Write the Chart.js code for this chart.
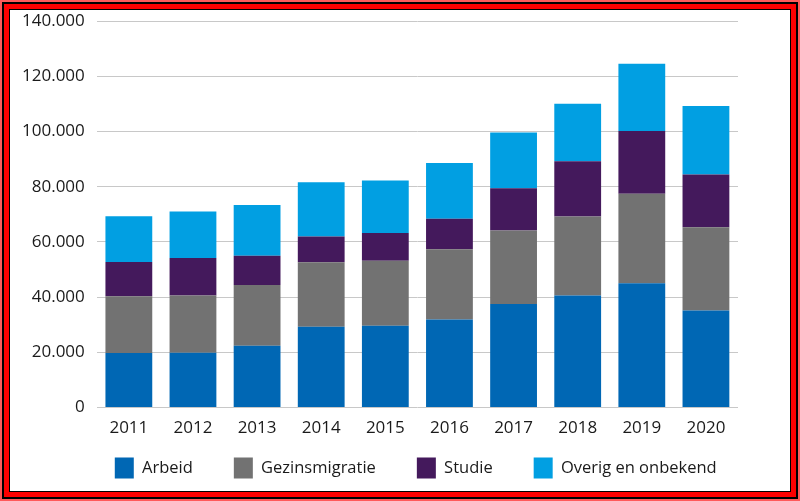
<!DOCTYPE html>
<html>
<head>
<meta charset="utf-8">
<script src="https://cdn.jsdelivr.net/npm/chart.js@4.4.0/dist/chart.umd.min.js"></script>
<style>
  html, body { margin: 0; padding: 0; background: #fff; }
  #frame {
    position: relative;
    width: 800px; height: 501px;
    box-sizing: border-box;
    padding: 10px;
    box-shadow: inset 0 0 0 2px #ff5a5a, inset 0 0 0 4px #000, inset 0 0 0 9px #f00, inset 0 0 0 10px #000;
  }
  #wrap { position: relative; width: 780px; height: 481px; }
</style>
</head>
<body>
<div id="frame"><div id="wrap"><canvas id="myChart"></canvas></div></div>
<script>
// Jaren en instroom per migratiemotief
var years = ['2011', '2012', '2013', '2014', '2015', '2016', '2017', '2018', '2019', '2020'];
var arbeid = [19800, 19900, 22400, 29300, 29600, 31900, 37500, 40600, 45000, 35200];
var gezinsmigratie = [20500, 20700, 22000, 23300, 23600, 25400, 26600, 28600, 32400, 30100];
var studie = [12400, 13600, 10600, 9400, 10000, 11100, 15300, 20000, 22800, 19100];
var overig = [16600, 16800, 18400, 19600, 19000, 20200, 20200, 20800, 24300, 24800];

function fmt(v) {
    return String(v).replace(/\B(?=(\d{3})+(?!\d))/g, '.');
}

// legend sits closer to the axis than Chart.js would place it
var legendPlace = {
    id: 'legendPlace',
    afterLayout: function (chart) {
        var lg = chart.legend;
        var top = chart.chartArea.bottom + 9;
        var left = chart.chartArea.left - 23;
        lg.bottom = top + lg.height;
        lg.top = top;
        lg.right = left + lg.width;
        lg.left = left;
    }
};

var ctx = document.getElementById('myChart').getContext('2d');
var chart = new Chart(ctx, {
    type: 'bar',
    data: {
        labels: years,
        datasets: [
            { label: 'Arbeid', data: arbeid, backgroundColor: '#0067b4' },
            { label: 'Gezinsmigratie', data: gezinsmigratie, backgroundColor: '#727272' },
            { label: 'Studie', data: studie, backgroundColor: '#44195c' },
            { label: 'Overig en onbekend', data: overig, backgroundColor: '#019fe2' }
        ]
    },
    plugins: [legendPlace],
    options: {
        responsive: true,
        maintainAspectRatio: false,
        animation: false,
        layout: { padding: { left: 0, right: 52, top: 0, bottom: -29 } },
        datasets: {
            bar: { barPercentage: 0.73, categoryPercentage: 1.0 }
        },
        scales: {
            x: {
                stacked: true,
                grid: { display: false, drawTicks: false },
                border: { display: false },
                ticks: { color: '#1a1a1a', font: { family: 'Open Sans', size: 17 }, padding: 10 }
            },
            y: {
                stacked: true,
                min: 0,
                max: 140000,
                grid: { color: '#c8c8c8', lineWidth: 1, drawTicks: false },
                border: { display: false },
                afterFit: function (scale) { scale.paddingTop = 11; },
                ticks: {
                    stepSize: 20000,
                    color: '#1a1a1a',
                    font: { family: 'Open Sans', size: 17 },
                    padding: 12,
                    callback: function (v) { return fmt(v); }
                }
            }
        },
        plugins: {
            tooltip: { enabled: false },
            legend: {
                position: 'bottom',
                align: 'start',
                labels: {
                    color: '#1a1a1a',
                    font: { family: 'Open Sans', size: 16.5 },
                    boxWidth: 19,
                    boxHeight: 21,
                    padding: 41
                }
            }
        }
    }
});
</script>
</body>
</html>
